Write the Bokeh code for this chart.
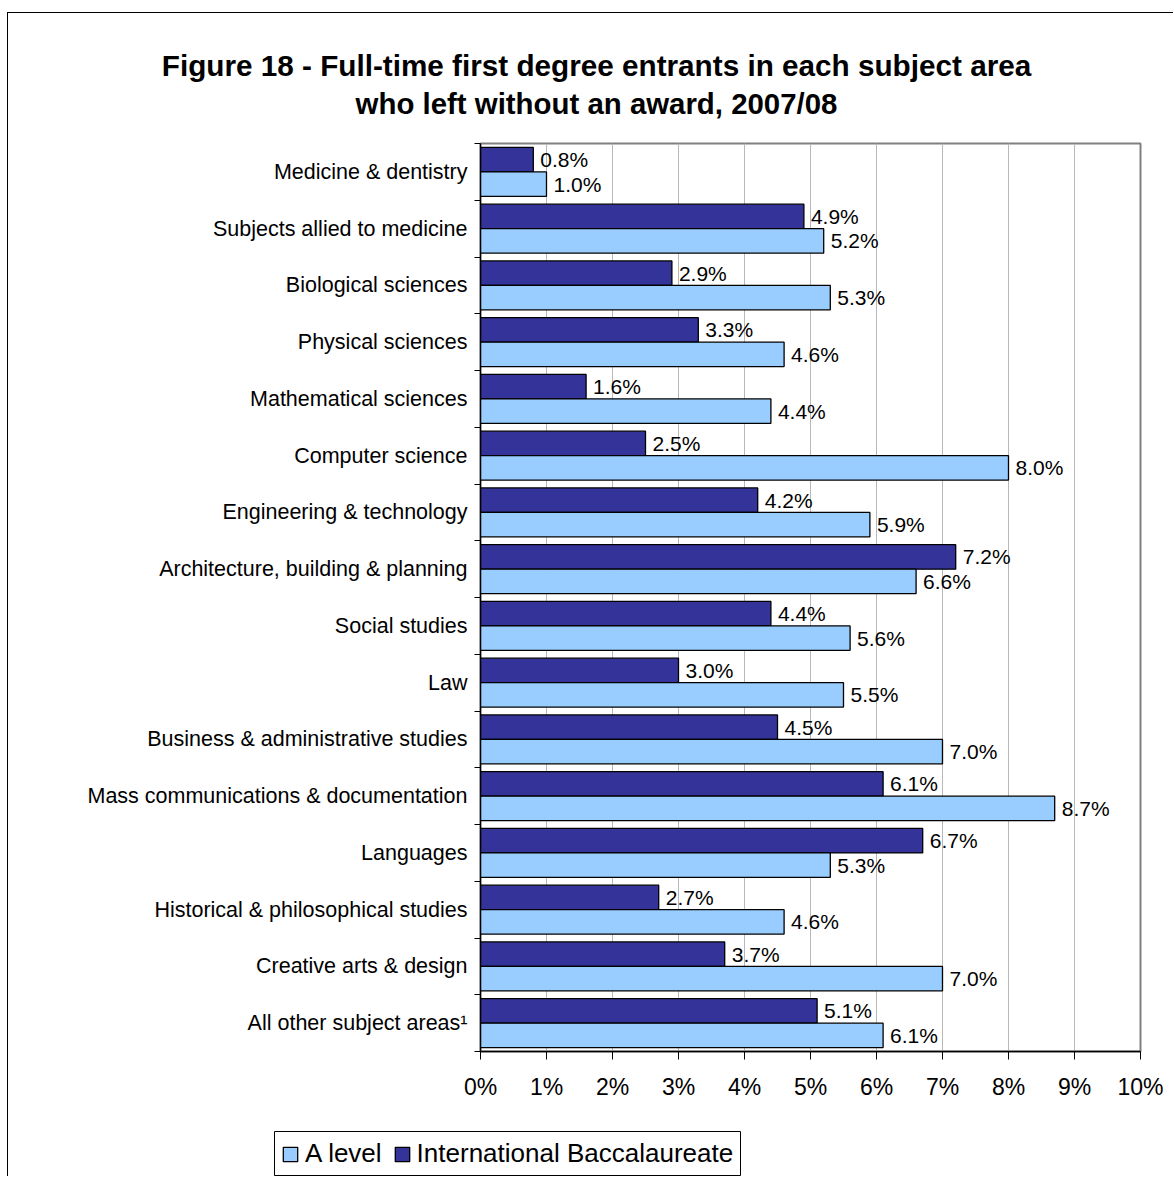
from bokeh.plotting import figure
from bokeh.models import (Range1d, FixedTicker, Legend, LegendItem,
                          ColumnDataSource, Label)
from bokeh.core.properties import value
from bokeh.embed import file_html
from bokeh.resources import INLINE

categories = [
    "Medicine & dentistry",
    "Subjects allied to medicine",
    "Biological sciences",
    "Physical sciences",
    "Mathematical sciences",
    "Computer science",
    "Engineering & technology",
    "Architecture, building & planning",
    "Social studies",
    "Law",
    "Business & administrative studies",
    "Mass communications & documentation",
    "Languages",
    "Historical & philosophical studies",
    "Creative arts & design",
    "All other subject areas\u00b9",
]
ib_values = [0.8, 4.9, 2.9, 3.3, 1.6, 2.5, 4.2, 7.2, 4.4, 3.0, 4.5, 6.1, 6.7, 2.7, 3.7, 5.1]
alevel_values = [1.0, 5.2, 5.3, 4.6, 4.4, 8.0, 5.9, 6.6, 5.6, 5.5, 7.0, 8.7, 5.3, 4.6, 7.0, 6.1]
x_ticks = list(range(0, 11))
x_tick_labels = [f"{t}%" for t in x_ticks]
title_lines = ["Figure 18 - Full-time first degree entrants in each subject area",
               "who left without an award, 2007/08"]
series_names = ["A level", "International Baccalaureate"]

FONT = "Liberation Sans"
DARK = "#333399"
LIGHT = "#99CCFF"
W = 1166

# ---- title strip (own root) ----
t = figure(width=W, height=121, output_backend="svg", toolbar_location=None,
           x_axis_type=None, y_axis_type=None,
           x_range=Range1d(0, 1), y_range=Range1d(0, 1),
           min_border_left=0, min_border_right=0,
           min_border_top=0, min_border_bottom=0)
t.title.visible = False
t.outline_line_color = None
t.xgrid.visible = False
t.ygrid.visible = False
t.margin = (12, 0, 0, 7)
t.styles = {"border-left": "1px solid black", "border-top": "1px solid black"}
for line, ys, fs in zip(title_lines, (69, 31), ("29.7px", "29.4px")):
    t.add_layout(Label(x=588, y=ys, x_units="screen", y_units="screen", text=line,
                       text_align="center", text_baseline="middle",
                       text_font=FONT, text_font_size=fs,
                       text_font_style="bold", text_color="black"))

# ---- main chart (own root) ----
n = len(categories)
idx = list(range(n))
off = 0.215
bh = 0.43

ib_src = ColumnDataSource(dict(y=[i - off for i in idx], v=ib_values,
                               t=[f"{v:.1f}%" for v in ib_values]))
al_src = ColumnDataSource(dict(y=[i + off for i in idx], v=alevel_values,
                               t=[f"{v:.1f}%" for v in alevel_values]))

p = figure(width=W, height=989, output_backend="svg", toolbar_location=None,
           x_range=Range1d(0, 10), y_range=Range1d(n - 0.5, -0.5),
           min_border_left=472, min_border_right=34, min_border_top=10,
           min_border_bottom=71)
p.margin = (0, 0, 0, 7)
p.styles = {"border-left": "1px solid black"}
p.title.visible = False
p.background_fill_color = "white"
p.border_fill_color = "white"
p.outline_line_color = "#808080"
p.outline_line_width = 2

dark = p.hbar(y="y", left=0, right="v", height=bh, source=ib_src,
              fill_color=DARK, line_color="black", line_width=1.3)
light = p.hbar(y="y", left=0, right="v", height=bh, source=al_src,
               fill_color=LIGHT, line_color="black", line_width=1.3)

for src in (ib_src, al_src):
    p.text(x="v", y="y", text="t", source=src, x_offset=7,
           text_align="left", text_baseline="middle",
           text_font=value(FONT), text_font_size="21px", text_color="black")

xa = p.xaxis[0]
xa.ticker = FixedTicker(ticks=x_ticks)
xa.major_label_overrides = {tk: lb for tk, lb in zip(x_ticks, x_tick_labels)}
xa.axis_line_color = "black"
xa.axis_line_width = 1.3
xa.major_tick_line_color = "black"
xa.major_tick_out = 8
xa.major_tick_in = 0
xa.minor_tick_line_color = None
xa.major_label_text_font = FONT
xa.major_label_text_font_size = "23px"
xa.major_label_text_color = "black"
xa.major_label_standoff = 14

ya = p.yaxis[0]
ya.ticker = FixedTicker(ticks=idx, minor_ticks=[i - 0.5 for i in range(n + 1)])
ya.major_label_overrides = {i: c for i, c in zip(idx, categories)}
ya.axis_line_color = "black"
ya.axis_line_width = 1.3
ya.major_tick_line_color = None
ya.major_tick_out = 0
ya.major_tick_in = 0
ya.minor_tick_line_color = "black"
ya.minor_tick_out = 6
ya.minor_tick_in = 0
ya.major_label_text_font = FONT
ya.major_label_text_font_size = "21.5px"
ya.major_label_text_color = "black"
ya.major_label_standoff = 7

p.xgrid.grid_line_color = "#b8b8b8"
p.xgrid.grid_line_width = 1
p.xgrid.ticker = FixedTicker(ticks=x_ticks)
p.ygrid.grid_line_color = None

# ---- legend strip (own root) ----
lg = figure(width=W, height=54, output_backend="svg", toolbar_location=None,
            x_axis_type=None, y_axis_type=None,
            x_range=Range1d(0, 1), y_range=Range1d(0, 1),
            min_border_left=266, min_border_right=434, min_border_top=9,
            min_border_bottom=0)
lg.margin = (0, 0, 0, 7)
lg.styles = {"border-left": "1px solid black"}
lg.title.visible = False
lg.xgrid.visible = False
lg.ygrid.visible = False
lg.outline_line_color = "black"
lg.outline_line_width = 1
lg.border_fill_color = "white"
# legend-key renderers: one point each, placed outside the visible range
lg_light = lg.hbar(y=[-5], left=[0], right=[alevel_values[0]], height=0.5,
                   fill_color=LIGHT, line_color="black", line_width=1.3)
lg_dark = lg.hbar(y=[-5], left=[0], right=[ib_values[0]], height=0.5,
                  fill_color=DARK, line_color="black", line_width=1.3)
legend = Legend(items=[LegendItem(label=series_names[0], renderers=[lg_light]),
                       LegendItem(label=series_names[1], renderers=[lg_dark])],
                location="top_left", orientation="horizontal",
                glyph_width=18, glyph_height=18, label_standoff=6, spacing=11,
                padding=8, margin=7,
                label_text_font=FONT, label_text_font_size="26px",
                label_text_color="black",
                border_line_color=None, background_fill_alpha=0)
lg.add_layout(legend, "center")

open("out.html", "w").write(file_html([t, p, lg], INLINE))
